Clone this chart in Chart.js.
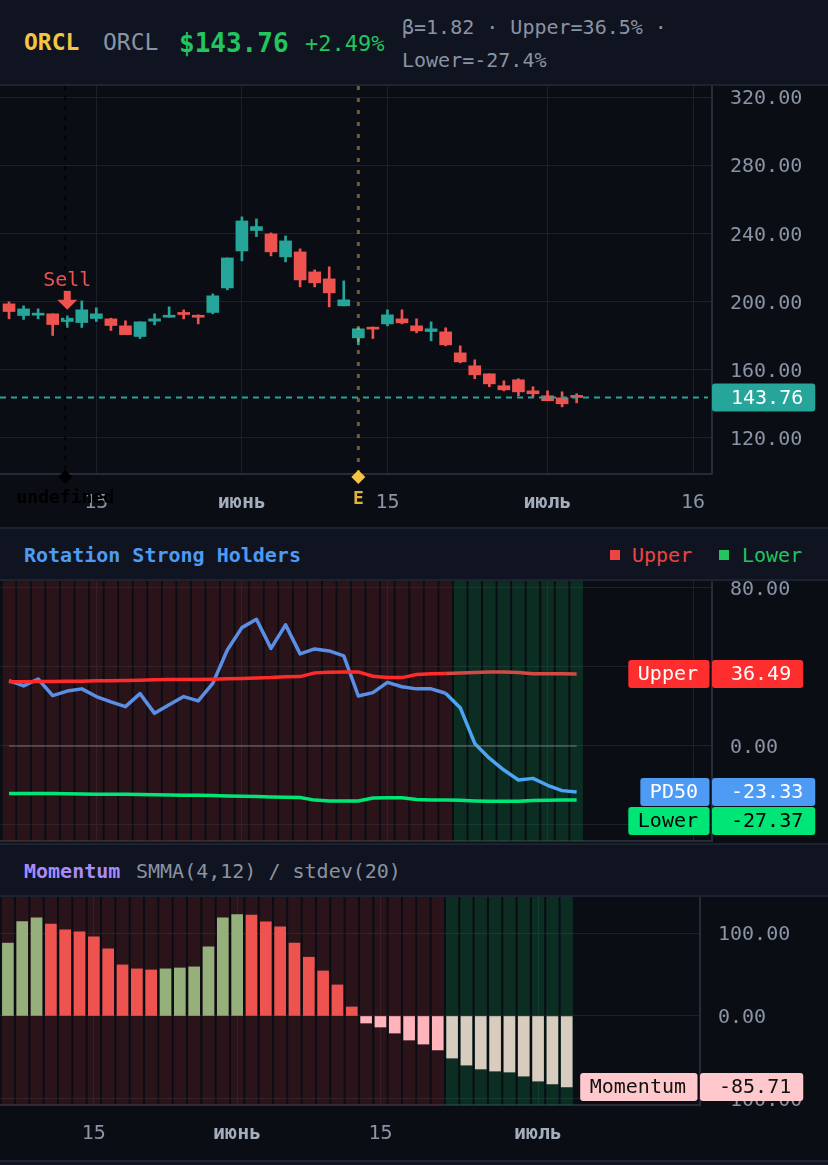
<!DOCTYPE html>
<html>
<head>
<meta charset="utf-8">
<script src="https://cdn.jsdelivr.net/npm/chart.js@4.4.1/dist/chart.umd.min.js"></script>
<style>
body { margin: 0; background: #0a0d14; width: 828px; height: 1165px; overflow: hidden; position: relative; font-family: "DejaVu Sans Mono", monospace; }
.band { position: absolute; left: 0; width: 828px; background: #0f1420; box-sizing: border-box; }
.t { position: absolute; white-space: nowrap; }
canvas { position: absolute; left: 0; }
.sq { position: absolute; width: 10px; height: 10px; }
</style>
</head>
<body>

<div class="band" style="top:0;height:86px;border-bottom:2px solid #1c2331"></div>
<div class="t" style="left:24px;top:31px;font-size:23px;line-height:23px;font-weight:bold;color:#f4c542">ORCL</div>
<div class="t" style="left:103px;top:31px;font-size:23px;line-height:23px;color:#8a93a3">ORCL</div>
<div class="t" style="left:179px;top:30px;font-size:26px;line-height:26px;font-weight:bold;color:#22c55e">$143.76</div>
<div class="t" style="left:305px;top:33px;font-size:22px;line-height:22px;color:#22c55e">+2.49%</div>
<div class="t" style="left:402px;top:17px;font-size:20px;line-height:20px;color:#8a93a3">β=1.82 · Upper=36.5% ·</div>
<div class="t" style="left:402px;top:50px;font-size:20px;line-height:20px;color:#8a93a3">Lower=-27.4%</div>

<canvas id="c1" width="828" height="441" style="top:86px"></canvas>

<div class="band" style="top:527px;height:54px;border-top:2px solid #1c2331;border-bottom:2px solid #1c2331"></div>
<div class="t" style="left:24px;top:545px;font-size:20px;line-height:20px;font-weight:bold;color:#4d9bf5">Rotation Strong Holders</div>
<div class="sq" style="left:610px;top:550px;background:#ef4444"></div>
<div class="t" style="left:632px;top:545px;font-size:20px;line-height:20px;color:#ef4444">Upper</div>
<div class="sq" style="left:719px;top:550px;background:#22c55e"></div>
<div class="t" style="left:742px;top:545px;font-size:20px;line-height:20px;color:#22c55e">Lower</div>

<canvas id="c2" width="828" height="262" style="top:581px"></canvas>

<div class="band" style="top:843px;height:54px;border-top:2px solid #1c2331;border-bottom:2px solid #1c2331"></div>
<div class="t" style="left:24px;top:861px;font-size:20px;line-height:20px;font-weight:bold;color:#a78bfa">Momentum</div>
<div class="t" style="left:136px;top:861px;font-size:20px;line-height:20px;color:#8a93a3">SMMA(4,12) / stdev(20)</div>

<canvas id="c3" width="828" height="263" style="top:897px"></canvas>
<div class="band" style="top:1160px;height:5px;border-top:2px solid #1c2331"></div>

<script>
// price candles
var opens  = [198.65, 191.8, 192.0, 192.8, 188.3, 187.7, 190.05, 189.85, 185.75, 179.5,
              188.5, 190.8, 193.6, 191.6, 193.6, 208.0, 229.7, 241.7, 239.7, 226.2,
              229.15, 217.4, 213.3, 197.5, 178.7, 184.95, 186.9, 189.85, 185.75, 182.4,
              182.2, 169.9, 162.3, 157.6, 150.6, 154.1, 147.6, 144.7, 143.5, 144.7];
var highs  = [199.8, 197.5, 195.7, 192.8, 191.6, 200.4, 196.3, 190.25, 188.7, 188.1,
              192.8, 196.9, 195.1, 192.2, 204.5, 225.6, 249.7, 248.5, 240.3, 238.5,
              230.9, 218.6, 220.4, 212.15, 184.6, 185.1, 195.15, 195.15, 189.85, 188.1,
              184.6, 174.0, 165.8, 157.6, 153.5, 154.7, 150.0, 147.6, 147.05, 145.9];
var lows   = [189.85, 189.5, 189.85, 180.1, 184.8, 184.8, 188.3, 183.0, 180.6, 178.3,
              186.3, 190.8, 189.85, 186.9, 192.8, 206.9, 223.9, 238.1, 226.8, 223.3,
              208.6, 208.6, 196.9, 197.5, 174.6, 178.3, 185.75, 186.9, 181.65, 176.95,
              174.0, 164.05, 154.7, 150.0, 147.6, 144.7, 144.1, 141.8, 138.2, 140.6];
var closes = [194.15, 195.7, 193.2, 186.5, 190.25, 195.15, 192.8, 185.95, 180.6, 188.1,
              189.85, 191.6, 192.4, 190.8, 203.35, 225.6, 247.3, 244.0, 229.15, 235.6,
              212.7, 211.0, 205.1, 201.0, 184.0, 183.8, 192.2, 187.5, 182.8, 184.0,
              174.6, 164.6, 157.0, 151.7, 148.2, 147.0, 145.9, 141.8, 140.0, 143.76];

// rotation strong holders
var pd50  = [33.1, 30.4, 33.9, 25.5, 27.8, 28.9, 25.0, 22.3, 19.9, 26.5,
             16.5, 20.9, 25.0, 22.8, 31.7, 48.6, 59.9, 64.1, 49.4, 61.3,
             46.6, 49.1, 48.1, 45.6, 25.3, 27.0, 32.2, 30.0, 28.9, 28.9,
             26.7, 19.4, 1.3, -6.2, -12.2, -17.2, -16.4, -19.9, -22.6, -23.33];
var upper = [32.5, 32.5, 32.6, 32.6, 32.7, 32.8, 33.0, 33.0, 33.2, 33.3,
             33.5, 33.6, 33.7, 33.7, 33.8, 34.0, 34.2, 34.4, 34.6, 35.0,
             35.1, 37.0, 37.3, 37.4, 37.5, 35.3, 34.6, 34.6, 36.2, 36.6,
             36.7, 36.9, 37.2, 37.4, 37.4, 37.2, 36.6, 36.5, 36.5, 36.49];
var lower = [-24.0, -24.0, -24.1, -24.1, -24.2, -24.3, -24.4, -24.4, -24.5, -24.6,
             -24.7, -24.8, -24.9, -25.0, -25.1, -25.3, -25.5, -25.6, -25.8, -26.0,
             -26.1, -27.4, -27.8, -27.8, -27.8, -26.3, -26.2, -26.2, -27.1, -27.3,
             -27.3, -27.5, -27.8, -28.0, -28.0, -28.0, -27.6, -27.5, -27.4, -27.37];
var zeroLine = [0, 0, 0, 0, 0, 0, 0, 0, 0, 0, 0, 0, 0, 0, 0, 0, 0, 0, 0, 0,
                0, 0, 0, 0, 0, 0, 0, 0, 0, 0, 0, 0, 0, 0, 0, 0, 0, 0, 0, 0];
// 0 = distribution (red), 1 = accumulation (green)
var regime = [0, 0, 0, 0, 0, 0, 0, 0, 0, 0, 0, 0, 0, 0, 0, 0, 0, 0, 0, 0,
              0, 0, 0, 0, 0, 0, 0, 0, 0, 0, 0, 1, 1, 1, 1, 1, 1, 1, 1, 1];

// momentum SMMA(4,12)/stdev(20)
var momentum = [88, 114, 118.5, 111, 104, 101.6, 95.6, 81, 61.7, 56.9,
                55.6, 56.9, 58, 59.3, 83.5, 118.5, 122.5, 122, 113.7, 107.7,
                88, 71, 54.4, 37.5, 10.9, -8.5, -13.3, -20.6, -29, -33.9,
                -41, -50.8, -59.3, -64, -66.5, -67.7, -72.6, -78.6, -82, -85.71];

var xTickPos = [6, 16, 26, 37, 47];
var xTickLabels = ['15', 'июнь', '15', 'июль', '16'];
var momTickPos = [6, 16, 26, 37];
var momTickLabels = ['15', 'июнь', '15', 'июль'];
var priceTicks = [120, 160, 200, 240, 280, 320];
var rshTicks = [-40, 0, 40, 80];
var rshLabeled = [0, 80];
var momTicks = [-100, 0, 100];

var sellIdx = 4;
var earnIdx = 24;

var FONT = '"DejaVu Sans Mono", monospace';
var GRID = '#1b2029', BORDER = '#262c37', TICK = '#8a94a5';
var UP = '#26a69a', DOWN = '#ef5350';

var idx = closes.map(function (c, i) { return i; });
var candleColors = idx.map(function (i) { return closes[i] >= opens[i] ? UP : DOWN; });

function xAxis(pos, labels, h, show, min) {
    return {
        type: 'linear', min: min, max: 48.3, offset: false,
        grid: { color: GRID, drawTicks: false, offset: false },
        border: { color: BORDER, width: 2 },
        afterBuildTicks: function (s) { s.ticks = pos.map(function (v) { return { value: v }; }); },
        afterFit: function (s) { s.height = h; s.paddingLeft = 0; s.paddingRight = 0; },
        ticks: {
            display: show, padding: 17, maxRotation: 0, autoSkip: false,
            callback: function (v, i) { return labels[i]; },
            color: function (c) { return labels[c.index] && labels[c.index].length > 2 ? '#a4adbb' : TICK; },
            font: function (c) {
                return { family: FONT, size: 20, weight: labels[c.index] && labels[c.index].length > 2 ? 'bold' : 'normal' };
            }
        }
    };
}

function yAxis(min, max, pos, w, shown) {
    return {
        position: 'right', min: min, max: max,
        grid: { color: GRID, drawTicks: false },
        border: { color: BORDER, width: 2 },
        afterBuildTicks: function (s) { s.ticks = pos.map(function (v) { return { value: v }; }); },
        afterFit: function (s) { s.width = w; s.paddingTop = 0; s.paddingBottom = 0; },
        ticks: { padding: 18, labelOffset: 2, color: TICK, font: { family: FONT, size: 20 },
                 callback: function (v) {
                     if (shown && shown.indexOf(v) < 0) return '';
                     return Number(v).toFixed(2);
                 } }
    };
}

function drawTag(ctx, axisX, y, label, value, bg, fg) {
    var h = 28;
    ctx.save();
    ctx.font = '20px ' + FONT;
    ctx.textBaseline = 'middle';
    var vw = ctx.measureText(value).width + 31;
    ctx.fillStyle = bg;
    ctx.beginPath(); ctx.roundRect(axisX, y - h / 2, vw, h, 3); ctx.fill();
    ctx.fillStyle = fg;
    ctx.textAlign = 'right';
    ctx.fillText(value, axisX + vw - 12, y + 1);
    if (label) {
        var lw = ctx.measureText(label).width + 21;
        var lx = axisX - 2.5 - lw;
        ctx.fillStyle = bg;
        ctx.beginPath(); ctx.roundRect(lx, y - h / 2, lw, h, 3); ctx.fill();
        ctx.fillStyle = fg;
        ctx.textAlign = 'left';
        ctx.fillText(label, lx + 9.5, y + 1);
    }
    ctx.restore();
}

var regimeBg = {
    id: 'regimeBg',
    beforeDatasetsDraw: function (chart) {
        var ctx = chart.ctx, a = chart.chartArea, xs = chart.scales.x;
        var slot = xs.getPixelForValue(1) - xs.getPixelForValue(0);
        ctx.save();
        regime.forEach(function (r, i) {
            var cx = xs.getPixelForValue(i);
            ctx.fillStyle = r ? 'rgba(16,120,70,0.30)' : 'rgba(110,35,40,0.33)';
            ctx.fillRect(cx - slot / 2 + 1, a.top, slot - 2, a.bottom - a.top);
        });
        ctx.restore();
    }
};

// ---- price panel ----
var priceMarks = {
    id: 'priceMarks',
    afterDatasetsDraw: function (chart) {
        var ctx = chart.ctx, a = chart.chartArea, xs = chart.scales.x, ys = chart.scales.y;
        var last = closes[closes.length - 1];
        var py = ys.getPixelForValue(last);
        ctx.save();
        // last price line
        ctx.strokeStyle = UP; ctx.lineWidth = 2; ctx.setLineDash([6, 5]);
        ctx.beginPath(); ctx.moveTo(a.left, py); ctx.lineTo(a.right - 4, py); ctx.stroke();
        // earnings line
        var ex = xs.getPixelForValue(earnIdx);
        ctx.strokeStyle = 'rgba(240,190,60,0.45)'; ctx.lineWidth = 3; ctx.setLineDash([4, 8]);
        ctx.beginPath(); ctx.moveTo(ex, a.top); ctx.lineTo(ex, a.bottom); ctx.stroke();
        // the stray marker line
        var ux = xs.getPixelForValue(sellIdx) - 2;
        ctx.strokeStyle = 'rgba(0,0,0,0.7)'; ctx.lineWidth = 2; ctx.setLineDash([4, 6]);
        ctx.beginPath(); ctx.moveTo(ux, a.top); ctx.lineTo(ux, a.bottom); ctx.stroke();
        ctx.setLineDash([]);
        // sell arrow
        var sx = xs.getPixelForValue(sellIdx), tip = ys.getPixelForValue(highs[sellIdx]) - 6;
        ctx.fillStyle = DOWN;
        ctx.fillRect(sx - 3.5, tip - 19, 7, 10);
        ctx.beginPath(); ctx.moveTo(sx - 10, tip - 10); ctx.lineTo(sx + 10, tip - 10); ctx.lineTo(sx, tip); ctx.closePath(); ctx.fill();
        ctx.font = '20px ' + FONT; ctx.textAlign = 'center'; ctx.textBaseline = 'middle';
        ctx.fillText('Sell', sx, tip - 29);
        ctx.restore();
    },
    afterDraw: function (chart) {
        var ctx = chart.ctx, a = chart.chartArea, xs = chart.scales.x, ys = chart.scales.y;
        var last = closes[closes.length - 1];
        drawTag(ctx, a.right, ys.getPixelForValue(last), null, last.toFixed(2), UP, '#ffffff');
        function diamond(x, y, c) {
            ctx.fillStyle = c;
            ctx.beginPath(); ctx.moveTo(x, y - 7); ctx.lineTo(x + 7, y); ctx.lineTo(x, y + 7); ctx.lineTo(x - 7, y); ctx.closePath(); ctx.fill();
        }
        ctx.save();
        var ex = xs.getPixelForValue(earnIdx);
        diamond(ex, a.bottom + 3, '#f4c542');
        ctx.fillStyle = '#e0b13c'; ctx.font = 'bold 18px ' + FONT; ctx.textAlign = 'center'; ctx.textBaseline = 'middle';
        ctx.fillText('E', ex, a.bottom + 25);
        var ux = xs.getPixelForValue(sellIdx) - 2;
        diamond(ux, a.bottom + 3, '#000000');
        ctx.fillStyle = '#000000'; ctx.font = 'bold 18px ' + FONT;
        ctx.fillText('undefined', ux, a.bottom + 24);
        ctx.restore();
    }
};

new Chart(document.getElementById('c1'), {
    type: 'bar',
    data: {
        datasets: [
            { data: idx.map(function (i) { return { x: i, y: [lows[i], highs[i]] }; }),
              backgroundColor: candleColors, barThickness: 2, grouped: false, order: 2 },
            { data: idx.map(function (i) { return { x: i, y: [opens[i], closes[i]] }; }),
              backgroundColor: candleColors, barThickness: 12, minBarLength: 2, grouped: false, order: 1 }
        ]
    },
    options: {
        responsive: false, animation: false,
        layout: { padding: 0 },
        plugins: { legend: { display: false }, tooltip: { enabled: false } },
        scales: {
            x: xAxis(xTickPos, xTickLabels, 53, true, -0.62),
            y: yAxis(98.8, 326.5, priceTicks, 116)
        }
    },
    plugins: [priceMarks]
});

// ---- rotation strong holders ----
var rshTags = {
    id: 'rshTags',
    afterDraw: function (chart) {
        var a = chart.chartArea, ys = chart.scales.y, n = pd50.length - 1;
        var tags = [
            { label: 'Upper', v: upper[n], bg: '#ff2e2e', fg: '#ffffff' },
            { label: 'PD50', v: pd50[n], bg: '#4d9bf5', fg: '#ffffff' },
            { label: 'Lower', v: lower[n], bg: '#00e676', fg: '#000000' }
        ];
        tags.forEach(function (t) { t.y = ys.getPixelForValue(t.v); });
        tags.sort(function (p, q) { return p.y - q.y; });
        for (var i = 1; i < tags.length; i++) {
            if (tags[i].y < tags[i - 1].y + 29) tags[i].y = tags[i - 1].y + 29;
        }
        tags.forEach(function (t) { drawTag(chart.ctx, a.right, t.y, t.label, t.v.toFixed(2), t.bg, t.fg); });
    }
};

function pts(arr) { return arr.map(function (v, i) { return { x: i, y: v }; }); }

new Chart(document.getElementById('c2'), {
    type: 'line',
    data: {
        datasets: [
            { data: pts(zeroLine), borderColor: 'rgba(150,155,170,0.35)', borderWidth: 2, pointRadius: 0 },
            { data: pts(upper), borderWidth: 3.5, pointRadius: 0,
              segment: { borderColor: function (c) { return regime[c.p1DataIndex] ? '#d24a44' : '#ff2b2b'; } } },
            { data: pts(lower), borderColor: '#00e676', borderWidth: 3.5, pointRadius: 0 },
            { data: pts(pd50), borderWidth: 3.5, pointRadius: 0, borderJoinStyle: 'round',
              segment: { borderColor: function (c) { return regime[c.p1DataIndex] ? '#4aa6f2' : '#5b8fe6'; } } }
        ]
    },
    options: {
        responsive: false, animation: false,
        layout: { padding: 0 },
        plugins: { legend: { display: false }, tooltip: { enabled: false } },
        scales: {
            x: xAxis(xTickPos, xTickLabels, 2, false, -0.62),
            y: yAxis(-48.1, 83.5, rshTicks, 116, rshLabeled)
        }
    },
    plugins: [regimeBg, rshTags]
});

// ---- momentum ----
var momColors = momentum.map(function (v, i) {
    if (v >= 0) return (i === 0 || v >= momentum[i - 1]) ? '#95b07b' : '#ef5350';
    return regime[i] ? '#d8ccbe' : '#ffb3ba';
});

var momTag = {
    id: 'momTag',
    afterDraw: function (chart) {
        var a = chart.chartArea, ys = chart.scales.y, n = momentum.length - 1;
        drawTag(chart.ctx, a.right, ys.getPixelForValue(momentum[n]), 'Momentum', momentum[n].toFixed(2), '#ffc8cc', '#111111');
    }
};

new Chart(document.getElementById('c3'), {
    type: 'bar',
    data: {
        datasets: [
            { data: momentum.map(function (v, i) { return { x: i, y: v }; }),
              backgroundColor: momColors, barThickness: 11, grouped: false }
        ]
    },
    options: {
        responsive: false, animation: false,
        layout: { padding: 0 },
        plugins: { legend: { display: false }, tooltip: { enabled: false } },
        scales: {
            x: xAxis(momTickPos, momTickLabels, 55, true, -0.55),
            y: yAxis(-107.5, 143.7, momTicks, 128)
        }
    },
    plugins: [regimeBg, momTag]
});
</script>
</body>
</html>
